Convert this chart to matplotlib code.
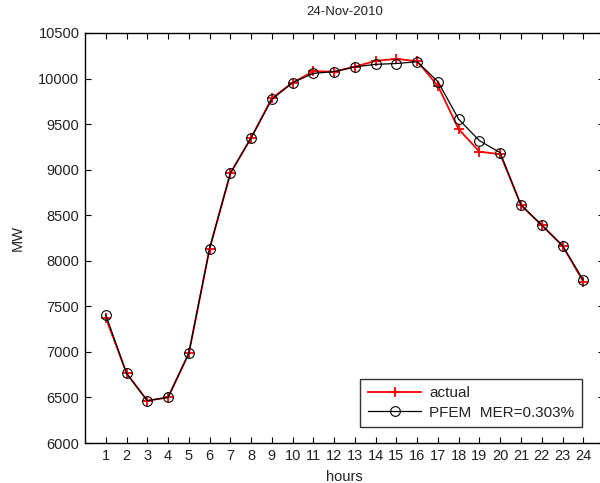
import matplotlib
matplotlib.use('Agg')
import matplotlib.pyplot as plt

plt.rcParams['font.family'] = ['Liberation Sans', 'DejaVu Sans']

hours = list(range(1, 25))
actual = [7375, 6765, 6464, 6501, 6984, 8133, 8960, 9350, 9785, 9955,
          10080, 10076, 10130, 10195, 10215, 10190, 9918, 9443, 9197, 9170,
          8610, 8390, 8166, 7770]
pfem = [7405, 6765, 6464, 6501, 6984, 8133, 8960, 9348, 9772, 9955,
        10057, 10076, 10128, 10156, 10165, 10185, 9966, 9553, 9318, 9186,
        8612, 8393, 8166, 7789]

fig = plt.figure(figsize=(6, 4.83), dpi=100)
ax = fig.add_axes([0.1417, 0.0828, 0.865, 0.8489])

ax.plot(hours, actual, color='red', marker='+', markersize=7, mew=1.3,
        linewidth=1.3, label='actual')
ax.plot(hours, pfem, color='black', marker='o', markersize=7, mfc='none',
        mew=0.8, linewidth=0.9, label='PFEM  MER=0.303%')

ax.set_xlim(0, 25)
ax.set_ylim(6000, 10500)
ax.set_xticks(hours)
ax.set_yticks(range(6000, 10501, 500))
ax.tick_params(direction='in', top=True, right=True, length=4,
               labelsize=10.5, pad=4, labelcolor='#222222')
for s in ax.spines.values():
    s.set_linewidth(1.0)

ax.set_title('24-Nov-2010', fontsize=9.5, pad=13, color='#222222')
ax.set_xlabel('hours', fontsize=10.5, labelpad=5, color='#222222')
ax.set_ylabel('MW', fontsize=10.5, labelpad=10, color='#222222')

leg = ax.legend(loc='lower right', bbox_to_anchor=(0.972, 0.02), fontsize=11,
                frameon=True, fancybox=False, edgecolor='black',
                handlelength=3.5, handletextpad=0.5, borderpad=0.5,
                labelspacing=0.35)
leg.get_frame().set_linewidth(1.0)
for t in leg.get_texts():
    t.set_color('#222222')

fig.savefig('out.png', dpi=100)
